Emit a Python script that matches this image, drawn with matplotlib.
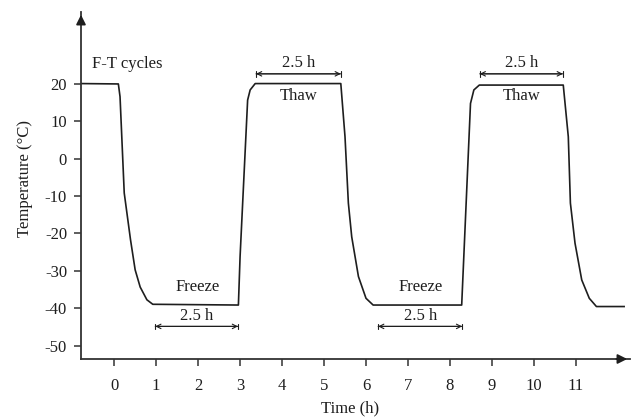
import numpy as np
import matplotlib.pyplot as plt

# freeze-thaw temperature history
time_h = [-0.79, 0.10, 0.14, 0.24, 0.39, 0.50, 0.62, 0.78, 0.92,
          2.96, 3.00, 3.18, 3.24, 3.36,
          5.40, 5.50, 5.58, 5.66, 5.82, 6.00, 6.17,
          8.28, 8.49, 8.57, 8.70,
          10.70, 10.82, 10.87, 10.98, 11.14, 11.32, 11.49, 12.15]
temp_c = [20.0, 19.9, 16.5, -9.2, -21.7, -29.7, -34.3, -37.7, -38.9,
          -39.1, -26.2, 15.6, 18.3, 20.0,
          20.0, 5.8, -11.9, -20.9, -31.5, -37.3, -39.1,
          -39.1, 14.7, 18.3, 19.6,
          19.6, 5.8, -11.9, -22.6, -32.4, -37.3, -39.5, -39.5]

# hold periods (start, end)
thaw_spans = [(3.38, 5.40), (8.71, 10.69)]
freeze_spans = [(0.98, 2.95), (6.29, 8.29)]
span_label = '2.5 h'

x_ticks = list(range(0, 12))
y_ticks = [-50, -40, -30, -20, -10, 0, 10, 20]

plt.rcParams['font.family'] = ['Liberation Serif', 'DejaVu Serif']
plt.rcParams['axes.unicode_minus'] = False
ink = '#1e1e1e'
fs = 12

fig = plt.figure(figsize=(6.36, 4.2), dpi=100)
ax = fig.add_axes([81 / 636, 1 - 359 / 420, (630 - 81) / 636, (359 - 12) / 420])

ax.plot(time_h, temp_c, color=ink, lw=1.2)

ax.set_xlim(-0.79, 12.29)
ax.set_ylim(-53.5, 39.1)
ax.set_xticks(x_ticks)
ax.set_yticks(y_ticks)
ax.tick_params(direction='out', length=5, width=1.1, color='#333333',
               labelsize=fs, labelcolor=ink)
ax.tick_params(axis='y', pad=5)
ax.tick_params(axis='x', pad=9)
for side in ['top', 'right']:
    ax.spines[side].set_visible(False)
for side in ['left', 'bottom']:
    ax.spines[side].set_linewidth(1.3)
    ax.spines[side].set_color('#333333')

# arrowheads on the axes
ax.annotate('', xy=(0, 1), xycoords='axes fraction', xytext=(0, 0.96),
            arrowprops=dict(arrowstyle='-|>', color=ink, lw=1.3, mutation_scale=14),
            annotation_clip=False)
ax.annotate('', xy=(1, 0), xycoords='axes fraction', xytext=(0.97, 0),
            arrowprops=dict(arrowstyle='-|>', color=ink, lw=1.3, mutation_scale=14),
            annotation_clip=False)

ax.set_xlabel('Time (h)', fontsize=fs, color=ink)
ax.set_ylabel('Temperature (°C)', fontsize=fs, color=ink)
ax.xaxis.set_label_coords(0.49, -0.118)
ax.yaxis.set_label_coords(-0.087, 0.52)


def span_arrow(x0, x1, y, text_y):
    ax.annotate('', xy=(x0, y), xytext=(x1, y),
                arrowprops=dict(arrowstyle='<->', color=ink, lw=0.8,
                                mutation_scale=8, shrinkA=0, shrinkB=0))
    ax.annotate('', xy=(x0, y), xytext=(x1, y),
                arrowprops=dict(arrowstyle='|-|,widthA=0.25,widthB=0.25', color=ink,
                                lw=0.8, mutation_scale=8, shrinkA=0, shrinkB=0))
    ax.text((x0 + x1) / 2, text_y, span_label, ha='center', va='center',
            fontsize=fs, color=ink)


for x0, x1 in thaw_spans:
    span_arrow(x0, x1, 22.6, 25.6)
    ax.text((x0 + x1) / 2, 16.7, 'Thaw', ha='center', va='center', fontsize=fs, color=ink)

for x0, x1 in freeze_spans:
    span_arrow(x0, x1, -44.8, -41.9)
    ax.text((x0 + x1) / 2 + 0.02, -34.4, 'Freeze', ha='center', va='center',
            fontsize=fs, color=ink)

ax.text(-0.52, 25.2, 'F-T cycles', ha='left', va='center', fontsize=fs, color=ink)

fig.savefig('out.png', dpi=100)
